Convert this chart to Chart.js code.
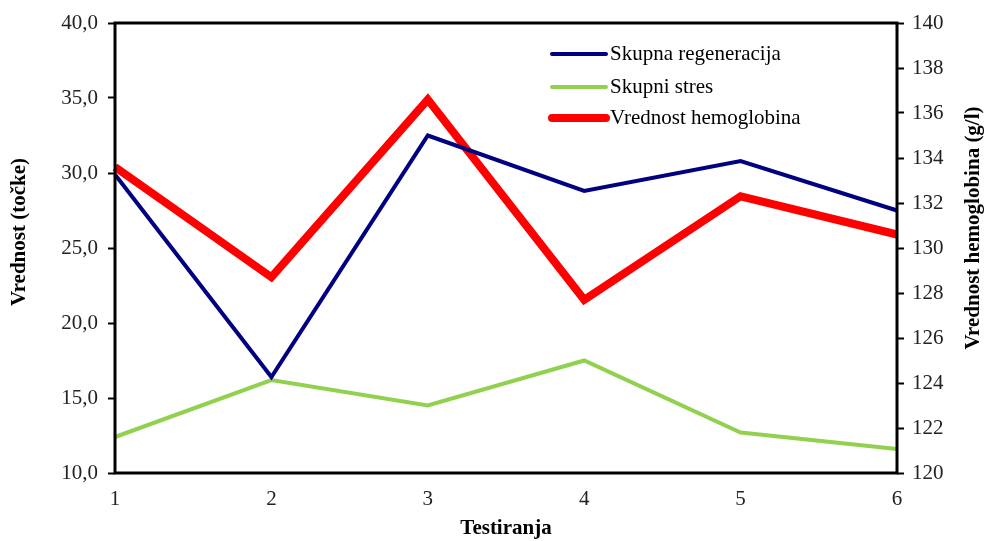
<!DOCTYPE html>
<html>
<head>
<meta charset="utf-8">
<script src="https://cdn.jsdelivr.net/npm/chart.js@4/dist/chart.umd.min.js"></script>
<style>
  html, body { margin:0; padding:0; background:#fff; }
  #wrap { width:987px; height:541px; }
</style>
</head>
<body>
<div id="wrap"><canvas id="c" width="987" height="541"></canvas></div>
<script>
// testiranja 1..6
const testiranja = ['1', '2', '3', '4', '5', '6'];
const regeneracija = [29.9, 16.4, 32.5, 28.8, 30.8, 27.5];
const stres = [12.4, 16.2, 14.5, 17.5, 12.7, 11.6];
const hemoglobin = [133.6, 128.7, 136.6, 127.7, 132.3, 130.6];

const SERIF = '"Liberation Serif", "Times New Roman", serif';

// okvir, naslova navpičnih osi in legenda znotraj grafa
const frameAndLegend = {
  id: 'frameAndLegend',
  afterDraw(chart){
    const { ctx, chartArea:a } = chart;
    ctx.save();
    ctx.strokeStyle = '#000';
    ctx.lineWidth = 3;
    ctx.strokeRect(a.left, a.top, a.right - a.left, a.bottom - a.top);

    // naslova osi y
    ctx.fillStyle = '#000';
    ctx.font = 'bold 21px ' + SERIF;
    ctx.textAlign = 'center';
    ctx.textBaseline = 'middle';
    ctx.save();
    ctx.translate(20, 232);
    ctx.rotate(-Math.PI / 2);
    ctx.fillText('Vrednost (točke)', 0, 0);
    ctx.restore();
    ctx.save();
    ctx.translate(974, 228);
    ctx.rotate(-Math.PI / 2);
    ctx.fillText('Vrednost hemoglobina (g/l)', 0, 0);
    ctx.restore();

    // legenda
    const x0 = 552, x1 = 606, rows = [54, 87, 118];
    ctx.font = '21px ' + SERIF;
    ctx.textAlign = 'left';
    chart.data.datasets.forEach((ds, i) => {
      ctx.beginPath();
      ctx.lineCap = 'round';
      ctx.strokeStyle = ds.borderColor;
      ctx.lineWidth = ds.borderWidth;
      ctx.moveTo(x0, rows[i]); ctx.lineTo(x1, rows[i]);
      ctx.stroke();
      ctx.fillText(ds.label, x1 + 4, rows[i]);
    });
    ctx.restore();
  }
};

new Chart(document.getElementById('c'), {
  type:'line',
  data:{
    labels: testiranja,
    datasets:[
      { label:'Skupna regeneracija', data:regeneracija, borderColor:'#000080', borderWidth:4, yAxisID:'y' },
      { label:'Skupni stres', data:stres, borderColor:'#92D050', borderWidth:4, yAxisID:'y' },
      { label:'Vrednost hemoglobina', data:hemoglobin, borderColor:'#FF0000', borderWidth:8, yAxisID:'y1' }
    ]
  },
  options:{
    responsive:false, animation:false,
    layout:{ padding:{ top:23 } },
    elements:{ point:{ radius:0 }, line:{ tension:0 } },
    plugins:{ legend:{ display:false }, tooltip:{ enabled:false } },
    scales:{
      x:{
        offset:false,
        grid:{ display:false, drawTicks:true, tickLength:6, tickColor:'#000' },
        border:{ display:false },
        ticks:{ color:'#222', font:{ family:SERIF, size:21 }, padding:8, maxRotation:0 },
        title:{ display:true, text:'Testiranja', color:'#000', font:{ family:SERIF, size:21, weight:'bold' }, padding:{ top:0, bottom:0 } },
        afterFit(s){ s.height = 68; }
      },
      y:{
        position:'left', min:10, max:40,
        grid:{ drawOnChartArea:false, tickLength:7, tickColor:'#000', tickWidth:2 },
        border:{ display:false },
        ticks:{ stepSize:5, color:'#222', font:{ family:SERIF, size:21 }, padding:10,
          callback:(v)=> v.toFixed(1).replace('.', ',') },
        afterFit(s){ s.width = 115; }
      },
      y1:{
        position:'right', min:120, max:140,
        grid:{ drawOnChartArea:false, tickLength:7, tickColor:'#000', tickWidth:2 },
        border:{ display:false },
        ticks:{ stepSize:2, color:'#222', font:{ family:SERIF, size:21 }, padding:8 },
        afterFit(s){ s.width = 90; }
      }
    }
  },
  plugins:[frameAndLegend]
});
</script>
</body>
</html>
